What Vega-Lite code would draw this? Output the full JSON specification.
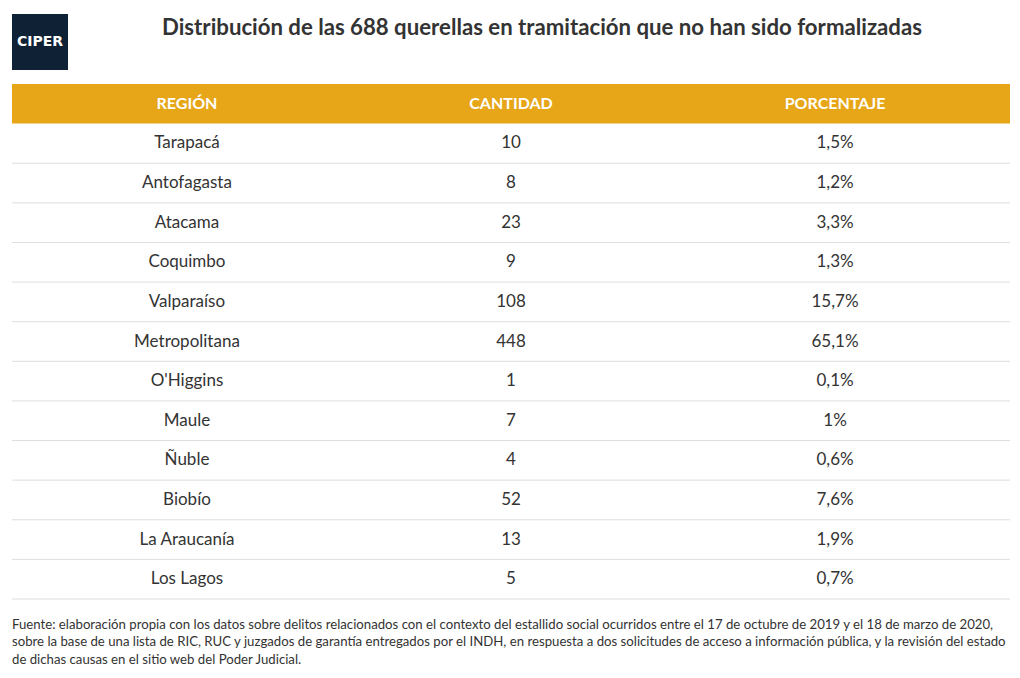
{
  "$schema": "https://vega.github.io/schema/vega-lite/v6.json",
  "padding": {"left": 11, "top": 14, "right": 11, "bottom": 0},
  "background": "white",
  "config": {"view": {"stroke": null}, "font": "Lato"},
  "datasets": {
    "tabla": [
      {"region": "REGIÓN", "cantidad": "CANTIDAD", "porcentaje": "PORCENTAJE", "tipo": "header"},
      {"region": "Tarapacá", "cantidad": 10, "porcentaje": "1,5%"},
      {"region": "Antofagasta", "cantidad": 8, "porcentaje": "1,2%"},
      {"region": "Atacama", "cantidad": 23, "porcentaje": "3,3%"},
      {"region": "Coquimbo", "cantidad": 9, "porcentaje": "1,3%"},
      {"region": "Valparaíso", "cantidad": 108, "porcentaje": "15,7%"},
      {"region": "Metropolitana", "cantidad": 448, "porcentaje": "65,1%"},
      {"region": "O'Higgins", "cantidad": 1, "porcentaje": "0,1%"},
      {"region": "Maule", "cantidad": 7, "porcentaje": "1%"},
      {"region": "Ñuble", "cantidad": 4, "porcentaje": "0,6%"},
      {"region": "Biobío", "cantidad": 52, "porcentaje": "7,6%"},
      {"region": "La Araucanía", "cantidad": 13, "porcentaje": "1,9%"},
      {"region": "Los Lagos", "cantidad": 5, "porcentaje": "0,7%"}
    ]
  },
  "spacing": 14,
  "vconcat": [
    {
      "spacing": 0,
      "hconcat": [
        {
          "width": 56,
          "height": 56,
          "view": {"fill": "#0F2235", "stroke": null},
          "data": {"values": [{"t": "CIPER"}]},
          "mark": {"type": "text", "font": "DejaVu Sans", "fontWeight": "bold", "fontSize": 14, "color": "white"},
          "encoding": {"text": {"field": "t", "type": "nominal"}}
        },
        {
          "width": 942,
          "height": 56,
          "data": {"values": [{"t": "Distribución de las 688 querellas en tramitación que no han sido formalizadas"}]},
          "mark": {"type": "text", "fontWeight": "bold", "fontSize": 22.2, "color": "#333333", "dy": -14, "dx": 3},
          "encoding": {"text": {"field": "t", "type": "nominal"}}
        }
      ]
    },
    {
      "width": 998,
      "height": 515,
      "data": {"name": "tabla"},
      "transform": [{"fold": ["region", "cantidad", "porcentaje"], "as": ["col", "val"]}],
      "title": {
        "text": [
          "Fuente: elaboración propia con los datos sobre delitos relacionados con el contexto del estallido social ocurridos entre el 17 de octubre de 2019 y el 18 de marzo de 2020,",
          "sobre la base de una lista de RIC, RUC y juzgados de garantía entregados por el INDH, en respuesta a dos solicitudes de acceso a información pública, y la revisión del estado",
          "de dichas causas en el sitio web del Poder Judicial."
        ],
        "orient": "bottom",
        "anchor": "start",
        "frame": "group",
        "fontSize": 13.2,
        "fontWeight": "normal",
        "color": "#333333",
        "offset": 19,
        "lineHeight": 17.6
      },
      "encoding": {
        "y": {
          "field": "region",
          "type": "nominal",
          "axis": null,
          "scale": {
            "domain": ["REGIÓN", "Tarapacá", "Antofagasta", "Atacama", "Coquimbo", "Valparaíso", "Metropolitana", "O'Higgins", "Maule", "Ñuble", "Biobío", "La Araucanía", "Los Lagos"],
            "paddingInner": 0,
            "paddingOuter": 0
          }
        }
      },
      "layer": [
        {
          "transform": [{"filter": "datum.tipo === 'header' && datum.col === 'region'"}],
          "mark": {"type": "rect", "color": "#E6A618"}
        },
        {
          "transform": [{"filter": "datum.tipo !== 'header' && datum.col === 'region'"}],
          "mark": {"type": "rule", "color": "#DEDEDE", "strokeWidth": 1},
          "encoding": {
            "y": {"field": "region", "type": "nominal", "bandPosition": 1, "axis": null}
          }
        },
        {
          "transform": [{"filter": "datum.tipo === 'header'"}],
          "mark": {"type": "text", "color": "white", "fontWeight": "bold", "fontSize": 16},
          "encoding": {
            "x": {"field": "col", "type": "nominal", "axis": null, "scale": {"type": "point", "padding": 0.54, "domain": ["region", "cantidad", "porcentaje"]}},
            "text": {"field": "val", "type": "nominal"}
          }
        },
        {
          "transform": [{"filter": "datum.tipo !== 'header'"}],
          "mark": {"type": "text", "color": "#333333", "fontSize": 17},
          "encoding": {
            "x": {"field": "col", "type": "nominal", "axis": null, "scale": {"type": "point", "padding": 0.54, "domain": ["region", "cantidad", "porcentaje"]}},
            "text": {"field": "val", "type": "nominal"}
          }
        }
      ]
    }
  ]
}
